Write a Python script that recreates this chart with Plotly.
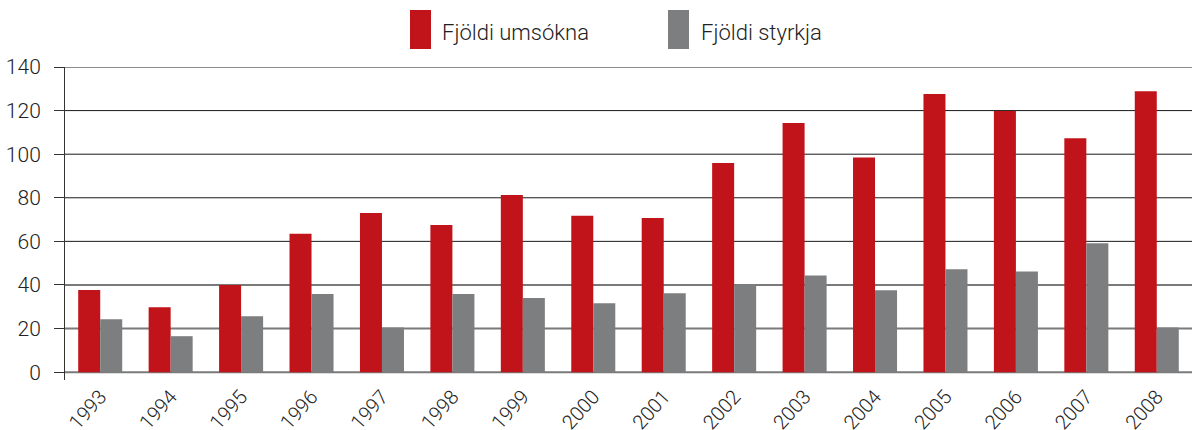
import plotly.graph_objects as go

years = ["1993", "1994", "1995", "1996", "1997", "1998", "1999", "2000",
         "2001", "2002", "2003", "2004", "2005", "2006", "2007", "2008"]
umsoknir = [37.7, 29.8, 40, 63.5, 73, 67.5, 81.3, 71.7, 70.7, 96, 114.3, 98.5, 127.6, 119.8, 107.3, 128.9]
styrkir = [24.3, 16.5, 25.7, 35.8, 20.5, 35.8, 34, 31.6, 36.2, 40.2, 44.4, 37.6, 47.2, 46.2, 59.1, 20.5]
series_names = ["Fjöldi umsókna", "Fjöldi styrkja"]
colors = ["#C1141A", "#7D7E80"]
y_ticks = [0, 20, 40, 60, 80, 100, 120, 140]

FONT = "Roboto"

fig = go.Figure()
for name, vals, col in zip(series_names, [umsoknir, styrkir], colors):
    fig.add_trace(go.Bar(x=years, y=vals, name=name, marker_color=col,
                         marker_line_width=0, showlegend=False))

# gridlines drawn as shapes (lower ones lighter grey, as in the original)
shapes = []
for v in y_ticks:
    if v <= 40:
        line = dict(color="#7a7a7a", width=2)
    else:
        line = dict(color="#1a1a1a", width=1)
    shapes.append(dict(type="line", xref="paper", yref="y", x0=0, x1=1, y0=v, y1=v,
                       line=line, layer="below"))

fig.update_layout(
    width=1192, height=430,
    margin=dict(l=65, r=0, t=67, b=50),
    plot_bgcolor="white", paper_bgcolor="white",
    barmode="group", bargap=0.375, bargroupgap=0,
    font=dict(family=FONT, size=20, color="#222222", weight=300),
    xaxis=dict(type="category", tickangle=-48, showgrid=False, showline=False,
               ticks="", automargin=False,
               tickfont=dict(size=20, family=FONT, weight=300), range=[-0.5, 15.5]),
    yaxis=dict(range=[-3.6, 140], tickvals=y_ticks, showgrid=False,
               zeroline=False, showline=True, linecolor="#333333", linewidth=1,
               ticks="outside", ticklen=10, tickcolor="#333333", automargin=False,
               ticklabelstandoff=9,
               tickfont=dict(size=21, family=FONT, weight=300)),
    shapes=shapes,
)

# legend swatches and labels drawn in pixel-based paper coords
W = 1192 - 65
H = 430 - 67 - 50
def px(x):
    return (x - 65) / W
def py(y):
    return (430 - 50 - y) / H

for (x0, x1, tx), name, col in zip([(410, 431, 440), (668, 689, 699)], series_names, colors):
    fig.add_shape(type="rect", xref="paper", yref="paper", x0=px(x0), x1=px(x1),
                  y0=py(49), y1=py(10), fillcolor=col, line_width=0)
    fig.add_annotation(xref="paper", yref="paper", x=px(tx), y=py(32), text=name,
                       showarrow=False, xanchor="left", yanchor="middle",
                       font=dict(size=22, family=FONT, weight=300, color="#222222"))

fig.write_html("out.html", config={"displayModeBar": False},
               post_script="document.body.style.margin='0';document.body.style.padding='0';")
